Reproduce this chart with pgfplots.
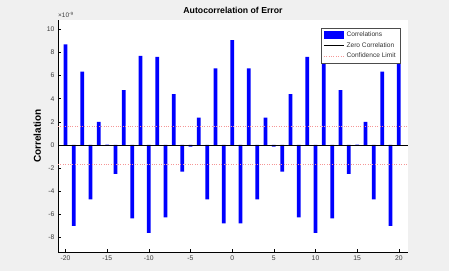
\documentclass[border=0pt]{standalone}
\usepackage{pgfplots}
\pgfplotsset{compat=1.18}
\usepackage{fontspec}
\setmainfont{Liberation Sans}
\definecolor{bgc}{RGB}{240,240,240}
\definecolor{tickc}{RGB}{60,60,60}
\definecolor{confc}{RGB}{245,150,150}
\pgfplotstableread{
lag val
-20 8.70
-19 -7.00
-18 6.33
-17 -4.70
-16 2.00
-15 0.03
-14 -2.50
-13 4.75
-12 -6.34
-11 7.69
-10 -7.60
-9 7.62
-8 -6.25
-7 4.40
-6 -2.30
-5 -0.15
-4 2.36
-3 -4.70
-2 6.63
-1 -6.77
0 9.07
1 -6.77
2 6.63
3 -4.70
4 2.36
5 -0.15
6 -2.30
7 4.40
8 -6.25
9 7.62
10 -7.60
11 7.69
12 -6.34
13 4.75
14 -2.50
15 0.03
16 2.00
17 -4.70
18 6.33
19 -7.00
20 8.70
}\datatab
\begin{document}
\begin{tikzpicture}[x=1pt,y=1pt]
\fill[bgc] (-58,-19) rectangle (391,252);
\useasboundingbox (-58,-19) rectangle (391,252);
\begin{axis}[
  at={(0,0)}, anchor=south west,
  scale only axis, width=350pt, height=232pt,
  xmin=-20.9, xmax=21.1, ymin=-9.25, ymax=10.8,
  axis lines=left, axis line style={black, line width=0.5pt, -},
  axis background/.style={fill=white},
  xtick={-20,-15,...,20}, ytick={-8,-6,...,10},
  tick align=inside, major tick length=3pt,
  tick style={black, line width=0.4pt},
  ticklabel style={font=\fontsize{6.8}{7}\selectfont, text=tickc},
  /pgf/number format/assume math mode=true,
  title={\bfseries Autocorrelation of Error},
  title style={font=\fontsize{8.7}{9}\selectfont, yshift=-3pt},
  ylabel={\bfseries Correlation},
  ylabel style={font=\fontsize{10}{10}\selectfont, yshift=-1pt},
  legend style={at={(0.977,0.966)}, anchor=north east, font=\fontsize{6.6}{8}\selectfont,
    draw=black!70, line width=0.4pt, inner sep=2pt, row sep=0pt, text=black!80},
  legend cell align=left,
  clip=false,
]
\addplot[ybar, bar width=0.45, fill=blue, draw=none, area legend,
  legend image code/.code={\fill[blue] (0cm,-0.12cm) rectangle (0.72cm,0.14cm);}]
  table[x=lag, y=val] {\datatab};
\addlegendentry{Correlations}
\addplot[black, line width=0.6pt, no marks,
  legend image code/.code={\draw[black, line width=0.6pt] (0cm,0cm) -- (0.72cm,0cm);}] coordinates {(-20.9,0) (21.1,0)};
\addlegendentry{Zero Correlation}
\addplot[confc, dotted, line width=0.4pt, no marks,
  legend image code/.code={\draw[confc, dotted, line width=0.4pt] (0cm,0cm) -- (0.72cm,0cm);}] coordinates {(-20.9,1.62) (21.1,1.62)};
\addlegendentry{Confidence Limit}
\addplot[confc, dotted, line width=0.4pt, no marks, forget plot] coordinates {(-20.9,-1.62) (21.1,-1.62)};
\node[anchor=south west, font=\fontsize{6.5}{7}\selectfont, text=tickc, inner sep=0pt]
  at ([yshift=2pt]rel axis cs:0,1) {×10\textsuperscript{-9}};
\end{axis}
\end{tikzpicture}
\end{document}
